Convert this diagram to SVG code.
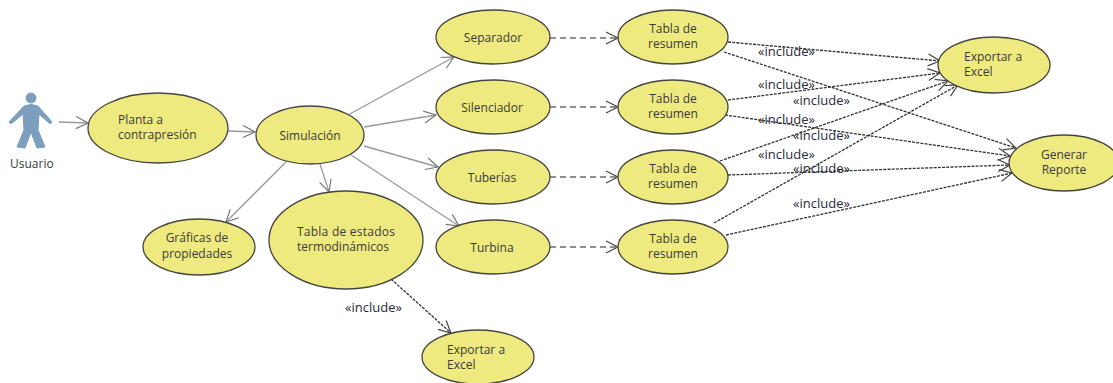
<svg xmlns="http://www.w3.org/2000/svg" width="1113" height="383" viewBox="0 0 1113 383">
<style>
.n ellipse{fill:#eeea80;stroke:#45453f;stroke-width:1.3}
text{font-family:"Open Sans","DejaVu Sans",sans-serif;font-size:12px;fill:#3a3a3a}
.c{text-anchor:middle}
.a{fill:none;stroke:#999;stroke-width:1.3;marker-end:url(#ga)}
.b{fill:none;stroke:#222;stroke-width:1.2;stroke-dasharray:6 4;marker-end:url(#da)}
.d{fill:none;stroke:#333;stroke-width:1.3;stroke-dasharray:3 1.2;marker-end:url(#da)}
.l{fill:#2a2a3a;font-size:13px}
</style>
<defs>
<marker id="ga" markerUnits="userSpaceOnUse" markerWidth="16" markerHeight="16" refX="13" refY="7" orient="auto"><path d="M1 1L13 7L1 13" fill="none" stroke="#777" stroke-width="1.2"/></marker>
<marker id="da" markerUnits="userSpaceOnUse" markerWidth="16" markerHeight="16" refX="13" refY="7" orient="auto"><path d="M1 1L13 7L1 13" fill="none" stroke="#444" stroke-width="1.2"/></marker>
</defs>
<g id="connectors">
<path class="a" d="M59 122L88 123"/>
<path class="a" d="M228 131L255 132"/>
<path class="a" d="M348 115L454 57"/>
<path class="a" d="M364 127L436 115"/>
<path class="a" d="M364 146L438 167"/>
<path class="a" d="M351 155L459 226"/>
<path class="a" d="M286 162L226 222"/>
<path class="a" d="M320 164L329 192"/>
<path class="b" d="M550 38L618 38"/>
<path class="b" d="M550 107L618 107"/>
<path class="b" d="M550 177L618 177"/>
<path class="b" d="M550 247L618 247"/>
<path class="d" d="M728 42L940 61"/>
<path class="d" d="M724 52L1016 148"/>
<path class="d" d="M728 100L940 73"/>
<path class="d" d="M725 115L1010 156"/>
<path class="d" d="M720 161L948 81"/>
<path class="d" d="M728 175L1010 165"/>
<path class="d" d="M714 223L958 85"/>
<path class="d" d="M726 235L1012 173"/>
<path class="d" d="M391 279L451 333"/>
</g>
<g id="usuario">
<g fill="#7b9fbc" stroke="#7b9fbc">
<circle cx="31" cy="98" r="5"/>
<path d="M24 106Q31 103 38 106L52 122L50 124L39 114L38 130L45 147L37 148L31 132L25 148L17 147L24 130L23 114L11 124L9 122Z" stroke-width="1" stroke-linejoin="round"/>
</g>
<text x="10" y="168">Usuario</text>
</g>
<g id="planta" class="n"><ellipse cx="158" cy="128" rx="70" ry="35"/><text x="118" y="124">Planta a</text><text x="118" y="139">contrapresión</text></g>
<g id="simulacion" class="n"><ellipse cx="310" cy="135" rx="54" ry="29"/><text class="c" x="310" y="140">Simulación</text></g>
<g id="separador" class="n"><ellipse cx="493" cy="37" rx="57" ry="27"/><text class="c" x="493" y="42">Separador</text></g>
<g id="silenciador" class="n"><ellipse cx="493" cy="107" rx="57" ry="27"/><text class="c" x="492" y="112">Silenciador</text></g>
<g id="tuberias" class="n"><ellipse cx="493" cy="177" rx="57" ry="27"/><text class="c" x="492" y="182">Tuberías</text></g>
<g id="turbina" class="n"><ellipse cx="493" cy="247" rx="57" ry="27"/><text class="c" x="492" y="252">Turbina</text></g>
<g id="tabla1" class="n"><ellipse cx="673" cy="37" rx="55" ry="27"/><text class="c" x="673" y="33">Tabla de</text><text class="c" x="673" y="48">resumen</text></g>
<g id="tabla2" class="n"><ellipse cx="673" cy="107" rx="55" ry="27"/><text class="c" x="673" y="103">Tabla de</text><text class="c" x="673" y="118">resumen</text></g>
<g id="tabla3" class="n"><ellipse cx="673" cy="177" rx="55" ry="27"/><text class="c" x="673" y="173">Tabla de</text><text class="c" x="673" y="188">resumen</text></g>
<g id="tabla4" class="n"><ellipse cx="673" cy="247" rx="55" ry="27"/><text class="c" x="673" y="243">Tabla de</text><text class="c" x="673" y="258">resumen</text></g>
<g id="graficas" class="n"><ellipse cx="199" cy="247" rx="56" ry="28"/><text class="c" x="197" y="242">Gráficas de</text><text class="c" x="197" y="258">propiedades</text></g>
<g id="tabla-estados" class="n"><ellipse cx="346" cy="240" rx="77" ry="49"/><text x="297" y="236" textLength="98">Tabla de estados</text><text x="297" y="251" textLength="92">termodinámicos</text></g>
<g id="exportar-excel-1" class="n"><ellipse cx="994" cy="65" rx="56" ry="28"/><text x="964" y="61">Exportar a</text><text x="964" y="76">Excel</text></g>
<g id="generar-reporte" class="n"><ellipse cx="1064" cy="163" rx="55" ry="28"/><text class="c" x="1064" y="159">Generar</text><text class="c" x="1064" y="174">Reporte</text></g>
<g id="exportar-excel-2" class="n"><ellipse cx="478" cy="357" rx="56" ry="27"/><text x="447" y="354">Exportar a</text><text x="447" y="369">Excel</text></g>
<g id="labels">
<text class="l" x="758" y="56">«include»</text>
<text class="l" x="758" y="89">«include»</text>
<text class="l" x="793" y="105">«include»</text>
<text class="l" x="758" y="124">«include»</text>
<text class="l" x="793" y="140">«include»</text>
<text class="l" x="758" y="159">«include»</text>
<text class="l" x="793" y="173">«include»</text>
<text class="l" x="793" y="208">«include»</text>
<text class="l" x="345" y="312">«include»</text>
</g>
</svg>
